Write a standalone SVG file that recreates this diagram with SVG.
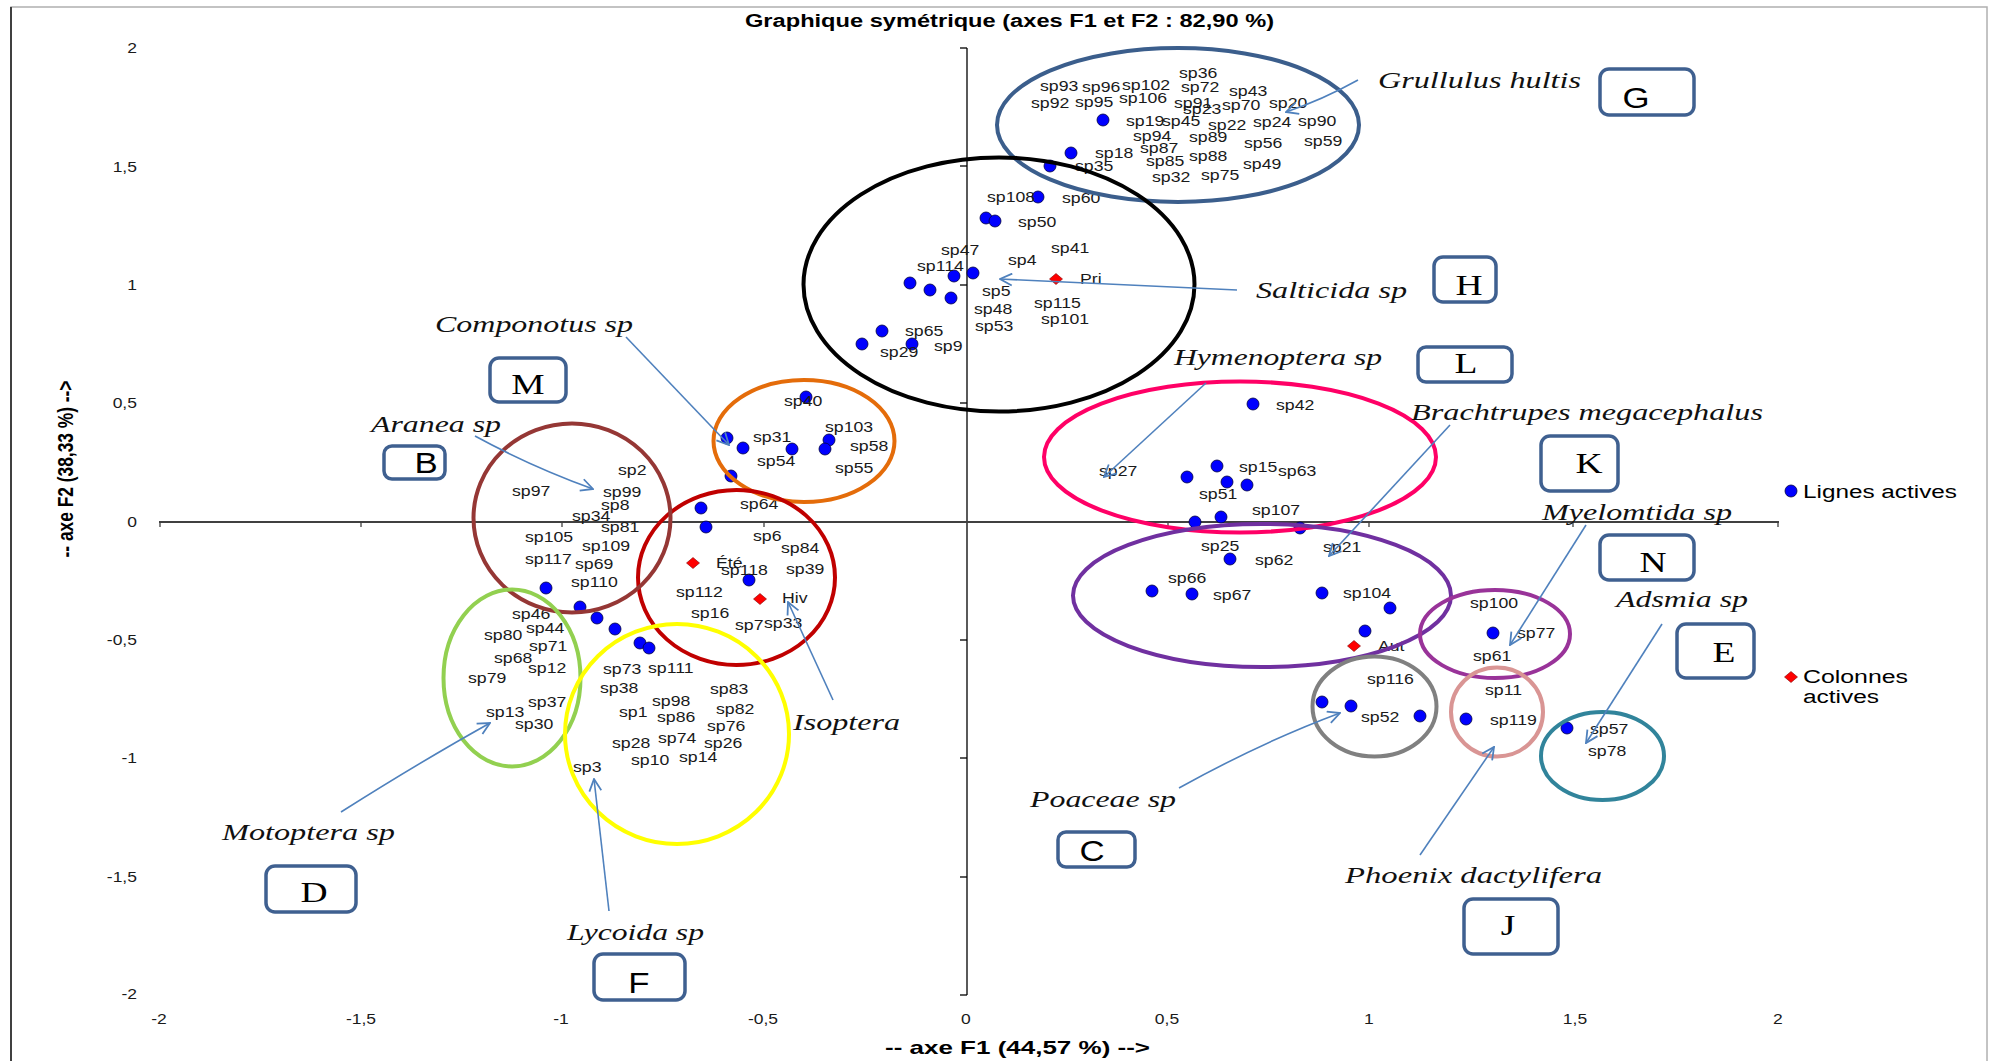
<svg xmlns="http://www.w3.org/2000/svg" width="1991" height="1061" viewBox="0 0 1991 1061">
<style>
text{font-family:"Liberation Sans",Arial,sans-serif}
.sp{font-size:14.5px;fill:#1a1a1a;transform-box:fill-box;transform-origin:0 50%;transform:scaleX(1.22)}
.tc{font-size:14px;fill:#1a1a1a;text-anchor:middle;transform-box:fill-box;transform-origin:50% 50%;transform:scaleX(1.25)}
.tr{font-size:14px;fill:#1a1a1a;text-anchor:end;transform-box:fill-box;transform-origin:100% 50%;transform:scaleX(1.25)}
.it{font-family:"Liberation Serif","Times New Roman",serif;font-style:italic;font-size:24px;fill:#111}
.box{fill:#fff;stroke:#3f6090;stroke-width:3.5}
.ls{font-family:"Liberation Serif","Times New Roman",serif;font-size:30px;fill:#000;text-anchor:middle;transform-box:fill-box;transform-origin:50% 50%;transform:scaleX(1.25)}
.la{font-size:29px;fill:#000;text-anchor:middle;transform-box:fill-box;transform-origin:50% 50%;transform:scaleX(1.2)}
.dot{fill:#0000ff;stroke:#000040;stroke-width:0.8}
.dia{fill:#ff0000;stroke:#800000;stroke-width:0.6}
.el{fill:none;stroke-width:4}
.arr{fill:none;stroke:#4f81bd;stroke-width:1.6;marker-end:url(#ah)}
.leg{font-size:18px;fill:#000}
</style>
<defs>
<marker id="ah" viewBox="0 0 14 14" refX="13" refY="7" markerWidth="14" markerHeight="14" markerUnits="userSpaceOnUse" orient="auto">
<path d="M1,1 L13,7 L1,13" fill="none" stroke="#4f81bd" stroke-width="1.8"/>
</marker>
<path id="dm" d="M0,-5.5 L6.5,0 L0,5.5 L-6.5,0 Z"/>
</defs>
<rect x="0" y="0" width="1991" height="1061" fill="#fff"/>
<g id="frame">
<rect x="11" y="7" width="1976" height="1060" fill="none" stroke="#b0b0b0" stroke-width="1.5"/>
<line x1="11" y1="7" x2="11" y2="1061" stroke="#404040" stroke-width="2"/>
</g>
<text id="title" x="745" y="27" font-weight="bold" font-size="17.5" textLength="529" lengthAdjust="spacingAndGlyphs">Graphique symétrique (axes F1 et F2 : 82,90 %)</text>
<g id="axes" stroke-width="1.3">
<line x1="967" y1="48" x2="967" y2="995" stroke="#000"/>
<line x1="159" y1="522" x2="1779" y2="522" stroke="#404040" stroke-width="2"/>
<g stroke="#000">
<line x1="960" y1="48" x2="967" y2="48"/><line x1="960" y1="166" x2="967" y2="166"/><line x1="960" y1="285" x2="967" y2="285"/><line x1="960" y1="403" x2="967" y2="403"/><line x1="960" y1="640" x2="967" y2="640"/><line x1="960" y1="758" x2="967" y2="758"/><line x1="960" y1="877" x2="967" y2="877"/><line x1="960" y1="995" x2="967" y2="995"/>
</g>
<g stroke="#404040">
<line x1="160" y1="522" x2="160" y2="527"/><line x1="361" y1="522" x2="361" y2="527"/><line x1="562" y1="522" x2="562" y2="527"/><line x1="764" y1="522" x2="764" y2="527"/><line x1="1168" y1="522" x2="1168" y2="527"/><line x1="1369" y1="522" x2="1369" y2="527"/><line x1="1573" y1="522" x2="1573" y2="527"/><line x1="1778" y1="522" x2="1778" y2="527"/>
</g>
</g>
<g id="ticklabels">
<text class="tr" x="137" y="53">2</text><text class="tr" x="137" y="172">1,5</text><text class="tr" x="137" y="290">1</text><text class="tr" x="137" y="408">0,5</text><text class="tr" x="137" y="527">0</text><text class="tr" x="137" y="645">-0,5</text><text class="tr" x="137" y="763">-1</text><text class="tr" x="137" y="882">-1,5</text><text class="tr" x="137" y="999">-2</text>
<text class="tc" x="159" y="1024">-2</text><text class="tc" x="361" y="1024">-1,5</text><text class="tc" x="561" y="1024">-1</text><text class="tc" x="763" y="1024">-0,5</text><text class="tc" x="966" y="1024">0</text><text class="tc" x="1167" y="1024">0,5</text><text class="tc" x="1369" y="1024">1</text><text class="tc" x="1575" y="1024">1,5</text><text class="tc" x="1778" y="1024">2</text>
</g>
<text id="axisF1" x="885" y="1054" font-weight="bold" font-size="19" textLength="265" lengthAdjust="spacingAndGlyphs">-- axe F1 (44,57 %) --&gt;</text>
<text id="axisF2" transform="translate(73 469) scale(1.25 1) rotate(-90)" text-anchor="middle" font-weight="bold" font-size="17" textLength="177" lengthAdjust="spacingAndGlyphs">-- axe F2 (38,33 %) --&gt;</text>

<g id="points">
<circle class="dot" cx="1103" cy="120" r="6"/><circle class="dot" cx="1071" cy="153" r="6"/><circle class="dot" cx="1050" cy="166" r="6"/>
<circle class="dot" cx="1038" cy="197" r="6"/><circle class="dot" cx="986" cy="218" r="6"/><circle class="dot" cx="995" cy="221" r="6"/><circle class="dot" cx="973" cy="273" r="6"/><circle class="dot" cx="954" cy="276" r="6"/><circle class="dot" cx="910" cy="283" r="6"/><circle class="dot" cx="930" cy="290" r="6"/><circle class="dot" cx="951" cy="298" r="6"/><circle class="dot" cx="882" cy="331" r="6"/><circle class="dot" cx="862" cy="344" r="6"/><circle class="dot" cx="912" cy="344" r="6"/>
<circle class="dot" cx="806" cy="397" r="6"/><circle class="dot" cx="727" cy="438" r="6"/><circle class="dot" cx="743" cy="448" r="6"/><circle class="dot" cx="792" cy="449" r="6"/><circle class="dot" cx="829" cy="440" r="6"/><circle class="dot" cx="825" cy="449" r="6"/><circle class="dot" cx="731" cy="476" r="6"/>
<circle class="dot" cx="701" cy="508" r="6"/><circle class="dot" cx="706" cy="527" r="6"/><circle class="dot" cx="749" cy="580" r="6"/>
<circle class="dot" cx="546" cy="588" r="6"/><circle class="dot" cx="580" cy="607" r="6"/><circle class="dot" cx="597" cy="618" r="6"/><circle class="dot" cx="615" cy="629" r="6"/><circle class="dot" cx="640" cy="643" r="6"/><circle class="dot" cx="649" cy="648" r="6"/>
<circle class="dot" cx="1253" cy="404" r="6"/><circle class="dot" cx="1217" cy="466" r="6"/><circle class="dot" cx="1187" cy="477" r="6"/><circle class="dot" cx="1227" cy="482" r="6"/><circle class="dot" cx="1247" cy="485" r="6"/><circle class="dot" cx="1195" cy="522" r="6"/><circle class="dot" cx="1221" cy="517" r="6"/><circle class="dot" cx="1300" cy="528" r="6"/><circle class="dot" cx="1230" cy="559" r="6"/><circle class="dot" cx="1152" cy="591" r="6"/><circle class="dot" cx="1192" cy="594" r="6"/><circle class="dot" cx="1322" cy="593" r="6"/><circle class="dot" cx="1390" cy="608" r="6"/><circle class="dot" cx="1365" cy="631" r="6"/><circle class="dot" cx="1322" cy="702" r="6"/><circle class="dot" cx="1351" cy="706" r="6"/><circle class="dot" cx="1420" cy="716" r="6"/><circle class="dot" cx="1493" cy="633" r="6"/><circle class="dot" cx="1466" cy="719" r="6"/><circle class="dot" cx="1567" cy="728" r="6"/>
<use href="#dm" class="dia" x="1056" y="279"/><use href="#dm" class="dia" x="693" y="563"/><use href="#dm" class="dia" x="760" y="599"/><use href="#dm" class="dia" x="1354" y="646"/>
</g>

<g id="labels">
<text class="sp" x="1179" y="78">sp36</text><text class="sp" x="1040" y="91">sp93</text><text class="sp" x="1082" y="92">sp96</text><text class="sp" x="1122" y="90">sp102</text><text class="sp" x="1181" y="92">sp72</text><text class="sp" x="1229" y="96">sp43</text><text class="sp" x="1031" y="108">sp92</text><text class="sp" x="1075" y="107">sp95</text><text class="sp" x="1119" y="103">sp106</text><text class="sp" x="1174" y="108">sp91</text><text class="sp" x="1183" y="114">sp23</text><text class="sp" x="1222" y="110">sp70</text><text class="sp" x="1269" y="108">sp20</text><text class="sp" x="1126" y="126">sp19</text><text class="sp" x="1162" y="126">sp45</text><text class="sp" x="1208" y="130">sp22</text><text class="sp" x="1253" y="127">sp24</text><text class="sp" x="1298" y="126">sp90</text><text class="sp" x="1133" y="141">sp94</text><text class="sp" x="1189" y="142">sp89</text><text class="sp" x="1244" y="148">sp56</text><text class="sp" x="1304" y="146">sp59</text><text class="sp" x="1095" y="158">sp18</text><text class="sp" x="1140" y="153">sp87</text><text class="sp" x="1189" y="161">sp88</text><text class="sp" x="1146" y="166">sp85</text><text class="sp" x="1243" y="169">sp49</text><text class="sp" x="1075" y="171">sp35</text><text class="sp" x="1152" y="182">sp32</text><text class="sp" x="1201" y="180">sp75</text>
<text class="sp" x="987" y="202">sp108</text><text class="sp" x="1062" y="203">sp60</text><text class="sp" x="1018" y="227">sp50</text><text class="sp" x="941" y="255">sp47</text><text class="sp" x="1051" y="253">sp41</text><text class="sp" x="1008" y="265">sp4</text><text class="sp" x="917" y="271">sp114</text><text class="sp" x="1080" y="284">Pri</text><text class="sp" x="982" y="296">sp5</text><text class="sp" x="1034" y="308">sp115</text><text class="sp" x="974" y="314">sp48</text><text class="sp" x="1041" y="324">sp101</text><text class="sp" x="975" y="331">sp53</text><text class="sp" x="905" y="336">sp65</text><text class="sp" x="934" y="351">sp9</text><text class="sp" x="880" y="357">sp29</text>
<text class="sp" x="784" y="406">sp40</text><text class="sp" x="825" y="432">sp103</text><text class="sp" x="753" y="442">sp31</text><text class="sp" x="850" y="451">sp58</text><text class="sp" x="757" y="466">sp54</text><text class="sp" x="835" y="473">sp55</text>
<text class="sp" x="740" y="509">sp64</text><text class="sp" x="753" y="541">sp6</text><text class="sp" x="781" y="553">sp84</text><text class="sp" x="716" y="568">Été</text><text class="sp" x="721" y="575">sp118</text><text class="sp" x="786" y="574">sp39</text><text class="sp" x="782" y="603">Hiv</text><text class="sp" x="676" y="597">sp112</text><text class="sp" x="691" y="618">sp16</text><text class="sp" x="735" y="630">sp7</text><text class="sp" x="764" y="628">sp33</text>
<text class="sp" x="618" y="475">sp2</text><text class="sp" x="512" y="496">sp97</text><text class="sp" x="603" y="497">sp99</text><text class="sp" x="601" y="510">sp8</text><text class="sp" x="572" y="521">sp34</text><text class="sp" x="601" y="532">sp81</text><text class="sp" x="525" y="542">sp105</text><text class="sp" x="582" y="551">sp109</text><text class="sp" x="525" y="564">sp117</text><text class="sp" x="575" y="569">sp69</text><text class="sp" x="571" y="587">sp110</text>
<text class="sp" x="512" y="619">sp46</text><text class="sp" x="526" y="633">sp44</text><text class="sp" x="484" y="640">sp80</text><text class="sp" x="529" y="651">sp71</text><text class="sp" x="494" y="663">sp68</text><text class="sp" x="528" y="673">sp12</text><text class="sp" x="468" y="683">sp79</text><text class="sp" x="528" y="707">sp37</text><text class="sp" x="486" y="717">sp13</text><text class="sp" x="515" y="729">sp30</text>
<text class="sp" x="603" y="674">sp73</text><text class="sp" x="648" y="673">sp111</text><text class="sp" x="600" y="693">sp38</text><text class="sp" x="710" y="694">sp83</text><text class="sp" x="652" y="706">sp98</text><text class="sp" x="716" y="714">sp82</text><text class="sp" x="619" y="717">sp1</text><text class="sp" x="657" y="722">sp86</text><text class="sp" x="707" y="731">sp76</text><text class="sp" x="612" y="748">sp28</text><text class="sp" x="658" y="743">sp74</text><text class="sp" x="704" y="748">sp26</text><text class="sp" x="631" y="765">sp10</text><text class="sp" x="679" y="762">sp14</text><text class="sp" x="573" y="772">sp3</text>
<text class="sp" x="1276" y="410">sp42</text><text class="sp" x="1099" y="476">sp27</text><text class="sp" x="1239" y="472">sp15</text><text class="sp" x="1278" y="476">sp63</text><text class="sp" x="1199" y="499">sp51</text><text class="sp" x="1252" y="515">sp107</text><text class="sp" x="1201" y="551">sp25</text><text class="sp" x="1323" y="552">sp21</text><text class="sp" x="1255" y="565">sp62</text><text class="sp" x="1168" y="583">sp66</text><text class="sp" x="1213" y="600">sp67</text><text class="sp" x="1343" y="598">sp104</text><text class="sp" x="1378" y="651">Aut</text><text class="sp" x="1367" y="684">sp116</text><text class="sp" x="1361" y="722">sp52</text><text class="sp" x="1470" y="608">sp100</text><text class="sp" x="1517" y="638">sp77</text><text class="sp" x="1473" y="661">sp61</text><text class="sp" x="1485" y="695">sp11</text><text class="sp" x="1490" y="725">sp119</text><text class="sp" x="1590" y="734">sp57</text><text class="sp" x="1588" y="756">sp78</text>
</g>

<g id="cluster-G"><ellipse class="el" cx="1178" cy="125" rx="181" ry="77" stroke="#3b5e8c"/></g>
<g id="cluster-H"><ellipse class="el" cx="999" cy="284.5" rx="195.5" ry="127" stroke="#000"/></g>
<g id="cluster-M"><ellipse class="el" cx="804" cy="441" rx="90.5" ry="61" stroke="#e46c0a"/></g>
<g id="cluster-Isoptera"><ellipse class="el" cx="736.5" cy="577.5" rx="98.5" ry="87.5" stroke="#c00000"/></g>
<g id="cluster-B"><ellipse class="el" cx="572" cy="518" rx="98.5" ry="94.5" stroke="#953735"/></g>
<g id="cluster-D"><ellipse class="el" cx="512" cy="678" rx="68.5" ry="88.5" stroke="#92d050"/></g>
<g id="cluster-F"><ellipse class="el" cx="677" cy="734" rx="112" ry="110" stroke="#ffff00"/></g>
<g id="cluster-L"><ellipse class="el" cx="1240" cy="457" rx="196" ry="75.5" stroke="#ff0066"/></g>
<g id="cluster-K"><ellipse class="el" cx="1262" cy="595.5" rx="189" ry="71.5" stroke="#7030a0"/></g>
<g id="cluster-N"><ellipse class="el" cx="1495" cy="634" rx="75" ry="44" stroke="#993399"/></g>
<g id="cluster-C"><ellipse class="el" cx="1374.5" cy="706.5" rx="62" ry="50" stroke="#808080"/></g>
<g id="cluster-J"><ellipse class="el" cx="1497" cy="712" rx="46" ry="44.5" stroke="#d99594"/></g>
<g id="cluster-E"><ellipse class="el" cx="1602.5" cy="756" rx="61.5" ry="44" stroke="#31849b"/></g>

<g id="connectors">
<path class="arr" d="M626,337 L729,445"/>
<path class="arr" d="M475,436 Q530,466 593,489"/>
<path class="arr" d="M1237,290 L1000,279"/>
<path class="arr" d="M1358,80 Q1322,100 1286,112"/>
<path class="arr" d="M1206,383 L1104,477"/>
<path class="arr" d="M1450,425 L1329,556"/>
<path class="arr" d="M1586,525 L1510,645"/>
<path class="arr" d="M1662,624 L1586,743"/>
<path class="arr" d="M833,700 L788,602"/>
<path class="arr" d="M1179,788 Q1262,742 1340,713"/>
<path class="arr" d="M1420,855 L1494,747"/>
<path class="arr" d="M341,812 Q420,762 490,723"/>
<path class="arr" d="M609,911 L594,779"/>
</g>

<g id="species-names">
<text class="it" x="435" y="332" textLength="198" lengthAdjust="spacingAndGlyphs">Componotus sp</text>
<text class="it" x="371" y="432" textLength="130" lengthAdjust="spacingAndGlyphs">Aranea sp</text>
<text class="it" x="1378" y="88" textLength="203" lengthAdjust="spacingAndGlyphs">Grullulus hultis</text>
<text class="it" x="1256" y="298" textLength="151" lengthAdjust="spacingAndGlyphs">Salticida sp</text>
<text class="it" x="1174" y="365" textLength="208" lengthAdjust="spacingAndGlyphs">Hymenoptera sp</text>
<text class="it" x="1411" y="420" textLength="352" lengthAdjust="spacingAndGlyphs">Brachtrupes megacephalus</text>
<text class="it" x="1542" y="520" textLength="190" lengthAdjust="spacingAndGlyphs">Myelomtida sp</text>
<text class="it" x="1616" y="607" textLength="132" lengthAdjust="spacingAndGlyphs">Adsmia sp</text>
<text class="it" x="793" y="730" textLength="107" lengthAdjust="spacingAndGlyphs">Isoptera</text>
<text class="it" x="222" y="840" textLength="173" lengthAdjust="spacingAndGlyphs">Motoptera sp</text>
<text class="it" x="567" y="940" textLength="137" lengthAdjust="spacingAndGlyphs">Lycoida sp</text>
<text class="it" x="1030" y="807" textLength="146" lengthAdjust="spacingAndGlyphs">Poaceae sp</text>
<text class="it" x="1345" y="883" textLength="257" lengthAdjust="spacingAndGlyphs">Phoenix dactylifera</text>
</g>

<g id="box-G"><rect class="box" x="1600" y="69" width="94" height="46" rx="9"/><text class="la" x="1636" y="108">G</text></g>
<g id="box-H"><rect class="box" x="1434" y="257" width="62" height="45" rx="9"/><text class="ls" x="1469" y="295">H</text></g>
<g id="box-L"><rect class="box" x="1418" y="347" width="94" height="35" rx="8"/><text class="ls" x="1466" y="373">L</text></g>
<g id="box-K"><rect class="box" x="1541" y="436" width="77" height="55" rx="9"/><text class="ls" x="1589" y="473">K</text></g>
<g id="box-N"><rect class="box" x="1600" y="535" width="94" height="45" rx="9"/><text class="ls" x="1653" y="572">N</text></g>
<g id="box-E"><rect class="box" x="1677" y="624" width="77" height="54" rx="9"/><text class="ls" x="1724" y="662">E</text></g>
<g id="box-J"><rect class="box" x="1464" y="899" width="94" height="55" rx="9"/><text class="ls" x="1508" y="935">J</text></g>
<g id="box-C"><rect class="box" x="1058" y="832" width="77" height="35" rx="8"/><text class="la" x="1092" y="861" font-size="27">C</text></g>
<g id="box-M"><rect class="box" x="490" y="358" width="76" height="44" rx="9"/><text class="ls" x="528" y="394">M</text></g>
<g id="box-B"><rect class="box" x="384" y="446" width="61" height="33" rx="8"/><text class="la" x="426" y="473" font-size="19">B</text></g>
<g id="box-D"><rect class="box" x="266" y="866" width="90" height="46" rx="9"/><text class="ls" x="314" y="902" font-size="32">D</text></g>
<g id="box-F"><rect class="box" x="594" y="954" width="91" height="46" rx="9"/><text class="la" x="639" y="993">F</text></g>

<g id="legend">
<circle class="dot" cx="1791" cy="491" r="6"/>
<text class="leg" x="1803" y="498" textLength="154" lengthAdjust="spacingAndGlyphs">Lignes actives</text>
<use href="#dm" class="dia" x="1791" y="677"/>
<text class="leg" x="1803" y="683" textLength="105" lengthAdjust="spacingAndGlyphs">Colonnes</text>
<text class="leg" x="1803" y="703" textLength="76" lengthAdjust="spacingAndGlyphs">actives</text>
</g>
</svg>
